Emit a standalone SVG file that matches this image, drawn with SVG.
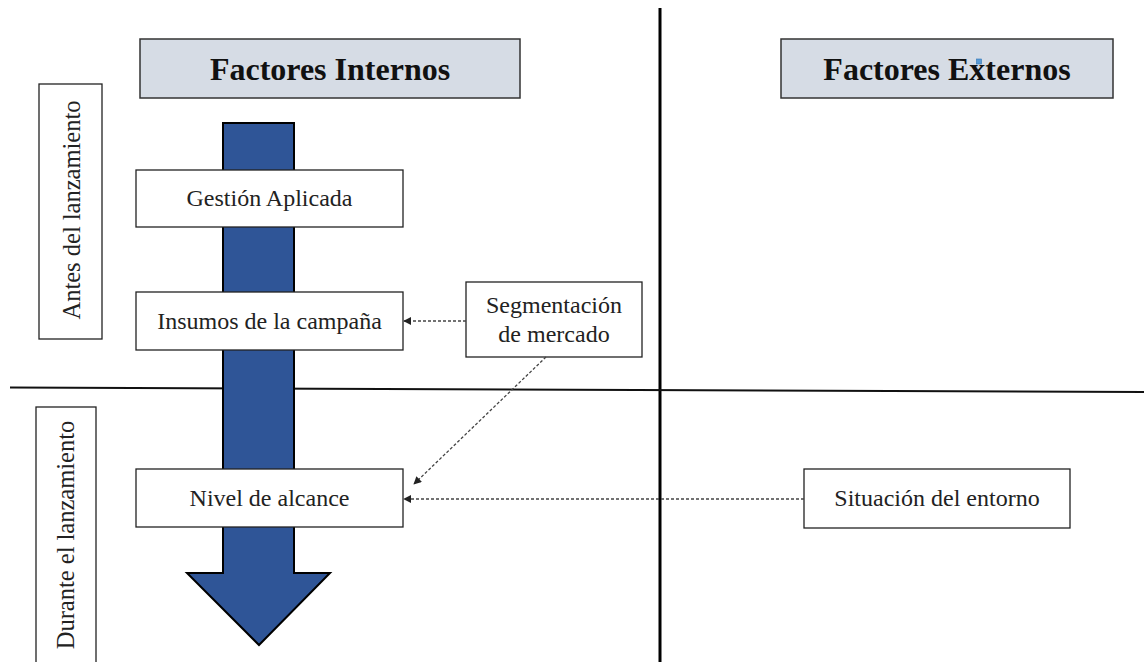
<svg xmlns="http://www.w3.org/2000/svg" width="1144" height="662" viewBox="0 0 1144 662">
<style>
.hdr{fill:#D6DCE5;stroke:#333;stroke-width:1.5}
.box{fill:#fff;stroke:#222;stroke-width:1.3}
.ht{font-family:"Liberation Serif",serif;font-weight:bold;font-size:32px;fill:#111;text-anchor:middle}
.t{font-family:"Liberation Serif",serif;font-size:24px;fill:#222;text-anchor:middle}
.vt{font-family:"Liberation Serif",serif;font-size:24.5px;fill:#222;text-anchor:middle}
.dash{fill:none;stroke:#444;stroke-width:1.3;stroke-dasharray:3 2}
</style>
<defs>
<marker id="ah" viewBox="0 0 10 10" refX="9" refY="5" markerWidth="8" markerHeight="8" markerUnits="userSpaceOnUse" orient="auto">
<path d="M0,0 L10,5 L0,10 z" fill="#222"/>
</marker>
</defs>
<rect width="1144" height="662" fill="#fff"/>
<g id="dividers">
<line x1="660" y1="8" x2="660" y2="662" stroke="#000" stroke-width="3"/>
<line x1="10" y1="387.5" x2="1144" y2="392" stroke="#111" stroke-width="2"/>
</g>
<g id="header-internos">
<rect class="hdr" x="140" y="39" width="380" height="59"/>
<text class="ht" x="330" y="80">Factores Internos</text>
</g>
<g id="header-externos">
<rect class="hdr" x="781" y="39" width="332" height="59"/>
<text class="ht" x="947" y="80">Factores Externos</text>
<rect x="976.500" y="59" width="5" height="5" fill="#5B9BD5" stroke="#2E75B6" stroke-width="0.6"/>
</g>
<g id="label-antes">
<rect class="box" x="39" y="84" width="63" height="255"/>
<text class="vt" transform="translate(79.500,210) rotate(-90)">Antes del lanzamiento</text>
</g>
<g id="label-durante">
<rect class="box" x="36" y="407" width="60" height="270"/>
<text class="vt" transform="translate(74,535) rotate(-90)">Durante el lanzamiento</text>
</g>
<g id="flow-arrow">
<polygon points="223,123 294,123 294,573 330,573 259,645 187,573 223,573" fill="#2F5597" stroke="#000" stroke-width="2" stroke-linejoin="miter"/>
</g>
<g id="gestion">
<rect class="box" x="136" y="170" width="267" height="57"/>
<text class="t" x="269.500" y="206">Gestión Aplicada</text>
</g>
<g id="insumos">
<rect class="box" x="136" y="292" width="267" height="58"/>
<text class="t" x="269.500" y="329">Insumos de la campaña</text>
</g>
<g id="nivel">
<rect class="box" x="136" y="469" width="267" height="58"/>
<text class="t" x="269.500" y="506">Nivel de alcance</text>
</g>
<g id="segmentacion">
<rect class="box" x="466" y="282" width="176" height="75"/>
<text class="t" x="554" y="313">Segmentación</text>
<text class="t" x="554" y="342">de mercado</text>
</g>
<g id="situacion">
<rect class="box" x="804" y="469" width="266" height="59"/>
<text class="t" x="937" y="506">Situación del entorno</text>
</g>
<g id="connectors">
<line class="dash" x1="466" y1="321" x2="404" y2="321" marker-end="url(#ah)"/>
<line class="dash" x1="546" y1="357" x2="414" y2="484" marker-end="url(#ah)"/>
<line class="dash" x1="804" y1="499" x2="404" y2="499" marker-end="url(#ah)"/>
</g>
</svg>
